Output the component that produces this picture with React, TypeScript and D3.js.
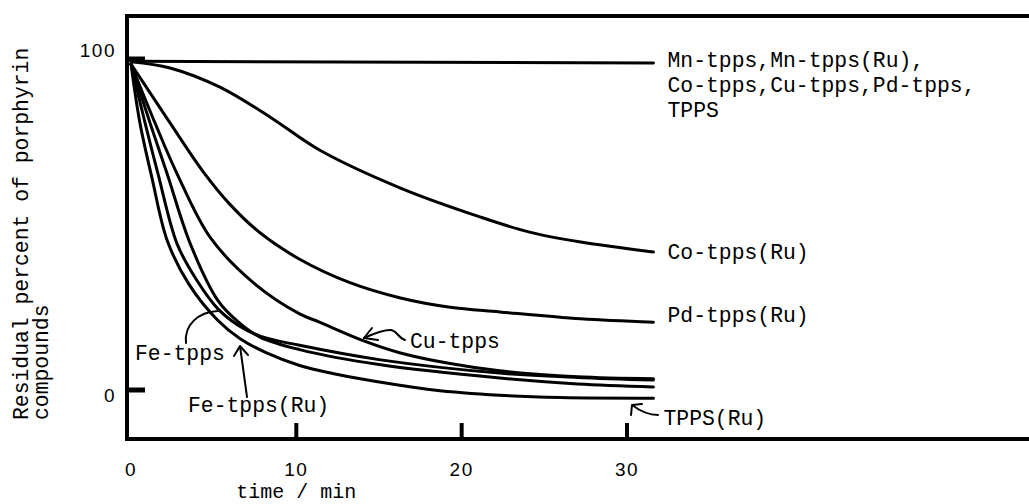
import * as d3 from "d3";

// residual percent vs time (min)
const mnFlat: [number, number][] = [[0, 99.3], [31.6, 98.8]];
const coRu: [number, number][] = [
  [0, 99.2], [2.36, 97.3], [5.38, 91.5], [8.4, 82.5], [11.4, 72.5], [16.3, 61],
  [21.1, 52.3], [24.1, 47.7], [27.2, 44.7], [31.6, 41.7],
];
const pdRu: [number, number][] = [
  [0, 98.5], [2.36, 80.7], [4.36, 66], [6, 56], [7.8, 47.5], [10.2, 39.5],
  [13.2, 32.5], [16.3, 27.8], [19.3, 25], [22.3, 23.6], [27.2, 21.5], [31.6, 20.5],
];
const cuTpps: [number, number][] = [
  [0, 98.5], [1.45, 80.7], [2.78, 65.4], [4.8, 46], [7.5, 32], [10.2, 23], [11.4, 20.5],
  [14, 15], [16.3, 11.2], [19.3, 8], [22.3, 5.8], [27, 4.0], [31.6, 3.4],
];
const feTpps: [number, number][] = [
  [0, 98.5], [0.85, 80.7], [1.63, 65.4], [2.8, 44], [4, 33], [5.26, 24.5], [6.5, 19.5],
  [7.8, 16.3], [10.2, 13.5], [15.1, 9.1], [22.3, 5.1], [27, 3.8], [31.6, 3.0],
];
const feTppsRu: [number, number][] = [
  [0, 98.5], [1.15, 80.7], [2.18, 65.4], [3.6, 44], [5.26, 27], [6.5, 20.5], [7.8, 16],
  [10.2, 12.2], [15.1, 7.6], [22.3, 3.6], [27, 1.8], [31.6, 0.9],
];
const tppsRu: [number, number][] = [
  [0, 98.5], [0.54, 80.7], [1.27, 64], [2.2, 45], [3.5, 32], [5.26, 21], [6.6, 15.5],
  [8.2, 11.2], [10.2, 7.4], [12.2, 5], [14.3, 3], [18.3, 0], [22.3, -1.6], [26, -2.3],
  [31.6, -2.5],
];

const series = [mnFlat, coRu, pdRu, cuTpps, feTpps, feTppsRu, tppsRu];

const xTicks = [0, 10, 20, 30];
const yTicks = [0, 100];
const mnLabel = ["Mn-tpps,Mn-tpps(Ru),", "Co-tpps,Cu-tpps,Pd-tpps,", "TPPS"];
const yLabel = ["Residual percent of porphyrin", "compounds"];
const xLabel = "time / min";

const mono = "'Liberation Mono', 'DejaVu Sans Mono', monospace";
const sans = "'Liberation Sans', Arial, sans-serif";

export default function App() {
  const x = d3.scaleLinear().domain([0, 30]).range([131, 627]);
  const y = d3.scaleLinear().domain([0, 100]).range([390, 59]);

  const line = d3
    .line<[number, number]>()
    .x(d => x(d[0]))
    .y(d => y(d[1]))
    .curve(d3.curveCatmullRom.alpha(0.5));

  const endX = x(31.6);
  const fs = 21.4;

  return (
    <svg
      width={1029}
      height={504}
      style={{ position: "absolute", left: 0, top: 0, background: "#fff" }}
    >
      {/* frame */}
      <g stroke="#000" strokeWidth={4} fill="none">
        <line x1={125} y1={16} x2={1029} y2={16} />
        <line x1={127} y1={14} x2={127} y2={441} />
        <line x1={125} y1={439} x2={1029} y2={439} />
      </g>

      {/* y ticks */}
      {yTicks.map(t => (
        <g key={t}>
          <line x1={127} x2={145} y1={y(t)} y2={y(t)} stroke="#000" strokeWidth={5} />
          <text
            x={116}
            y={t === 100 ? y(t) - 2 : y(t) + 12}
            textAnchor="end"
            fontFamily={sans}
            fontSize={19}
            letterSpacing={1.5}
          >
            {t}
          </text>
        </g>
      ))}

      {/* x ticks */}
      {xTicks.map(t => (
        <g key={t}>
          {t > 0 && (
            <line x1={x(t)} x2={x(t)} y1={423} y2={439} stroke="#000" strokeWidth={4} />
          )}
          <text
            x={x(t)}
            y={476}
            textAnchor="middle"
            fontFamily={sans}
            fontSize={19}
            letterSpacing={1.5}
          >
            {t}
          </text>
        </g>
      ))}

      <text x={x(10)} y={498} textAnchor="middle" fontFamily={mono} fontSize={20}>
        {xLabel}
      </text>

      {yLabel.map((s, i) => (
        <text
          key={s}
          transform={`translate(${28 + i * 20},420) rotate(-90)`}
          fontFamily={mono}
          fontSize={fs}
        >
          {s}
        </text>
      ))}

      {/* curves */}
      <g fill="none" stroke="#000" strokeWidth={3} strokeLinecap="round">
        {series.map((s, i) => (
          <path key={i} d={line(s) || ""} />
        ))}
      </g>

      {/* labels on the right */}
      <g fontFamily={mono} fontSize={fs}>
        {mnLabel.map((s, i) => (
          <text key={s} x={endX + 14} y={67 + i * 25}>
            {s}
          </text>
        ))}
        <text x={endX + 14} y={259}>Co-tpps(Ru)</text>
        <text x={endX + 14} y={322}>Pd-tpps(Ru)</text>
        <text x={endX + 10} y={425}>TPPS(Ru)</text>
        <text x={410} y={348}>Cu-tpps</text>
        <text x={135} y={360}>Fe-tpps</text>
        <text x={188} y={412}>Fe-tpps(Ru)</text>
      </g>

      {/* arrows */}
      <g fill="none" stroke="#000" strokeWidth={2} strokeLinecap="round">
        <path d="M405,340 C398,338 397,330 390,330 C384,330 375,333 364,338" />
        <path d="M364,338 L372,328 M364,338 L378,340" />
        <path d="M186,343 C184,325 198,312 218,311" />
        <path d="M247,397 L240,346 M240,346 L234,356 M240,346 L248,355" />
        <path d="M658,415 C648,415 640,411 632,405 M632,405 L642,404 M632,405 L631,415" />
      </g>
    </svg>
  );
}
